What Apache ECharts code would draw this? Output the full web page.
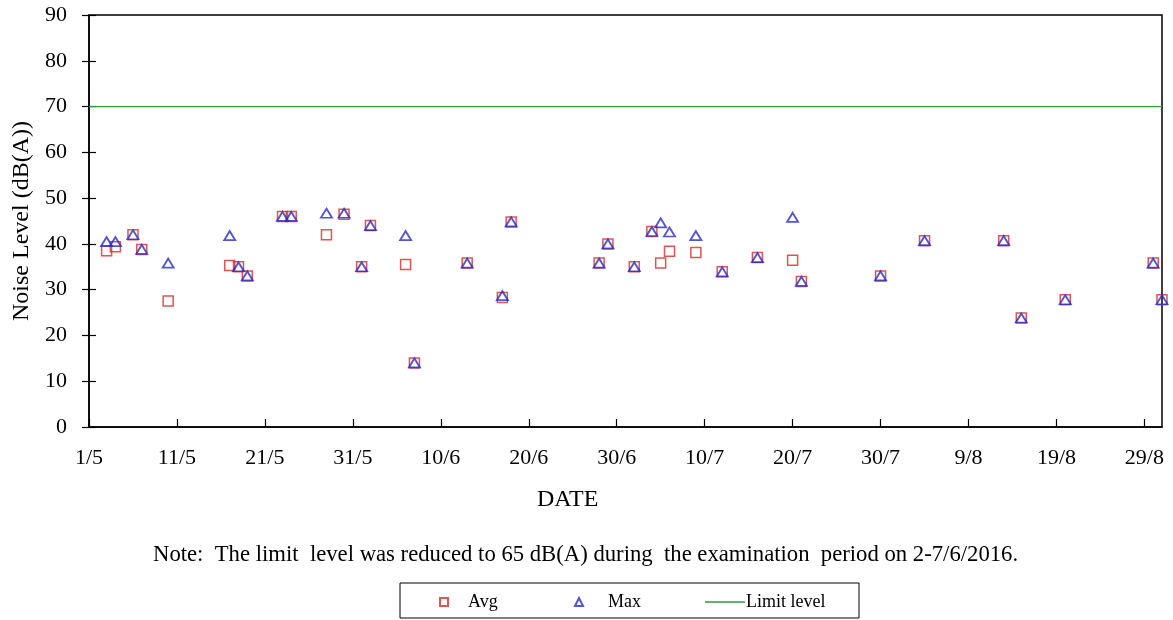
<!DOCTYPE html>
<html>
<head>
<meta charset="utf-8">
<script src="https://cdn.jsdelivr.net/npm/echarts@6/dist/echarts.min.js"></script>
<style>
html,body{margin:0;padding:0;background:#fff;}
#chart{width:1173px;height:620px;}
</style>
</head>
<body>
<div id="chart"></div>
<script>
// ---- data ----
const startDate = '2016-05-01';
const endDate = '2016-08-31';
const dates = ['2016-05-03','2016-05-04','2016-05-06','2016-05-07','2016-05-10','2016-05-17','2016-05-18','2016-05-19',
  '2016-05-23','2016-05-24','2016-05-28','2016-05-30','2016-06-01','2016-06-02','2016-06-06','2016-06-07',
  '2016-06-13','2016-06-17','2016-06-18','2016-06-28','2016-06-29','2016-07-02','2016-07-04','2016-07-05',
  '2016-07-06','2016-07-09','2016-07-12','2016-07-16','2016-07-20','2016-07-21','2016-07-30','2016-08-04',
  '2016-08-13','2016-08-15','2016-08-20','2016-08-30','2016-08-31'];
const avgValues = [38.5,39.4,42,38.8,27.5,35.3,35,33,
  46,46,42,46.5,35,44,35.5,14,
  35.8,28.3,44.8,35.8,40,35,42.7,35.8,
  38.4,38.1,33.9,37,36.4,31.8,33,40.7,
  40.7,23.8,27.8,35.8,27.8];
const maxValues = [40.5,40.5,42,38.8,35.8,41.8,35,33,
  46,46,46.7,46.7,35,44,41.8,14,
  35.8,28.7,44.8,35.8,40,35,42.7,44.6,
  42.6,41.8,33.9,37,45.8,31.8,33,40.7,
  40.7,23.8,27.8,35.8,27.8];
const limitLevel = 70;
const xTickLabels = ['1/5','11/5','21/5','31/5','10/6','20/6','30/6','10/7','20/7','30/7','9/8','19/8','29/8'];
const yTicks = {min: 0, max: 90, interval: 10};

// ---- helpers ----
const DAY = 86400000;
const dayOffset = d => Math.round((Date.parse(d) - Date.parse(startDate)) / DAY);
const xMax = dayOffset(endDate);
const avgData = dates.map((d, i) => [dayOffset(d), avgValues[i]]);
const maxData = dates.map((d, i) => [dayOffset(d), maxValues[i]]);
const limitData = [[0, limitLevel], [xMax, limitLevel]];

const FONT = '"Liberation Serif", "Times New Roman", serif';
const RED = '#d42a2a';
const BLUE = '#2a2ac8';
const GREEN = '#2e9a3a';
const legendText = {color: '#000', fontFamily: FONT, fontSize: 18};

const chart = echarts.init(document.getElementById('chart'), null, {renderer: 'canvas'});
chart.setOption({
  animation: false,
  backgroundColor: '#fff',
  grid: {left: 89, right: 11, top: 15, bottom: 193, show: true, borderColor: '#000', borderWidth: 1.5, backgroundColor: 'transparent'},
  xAxis: {
    type: 'value', min: 0, max: xMax, interval: 10,
    axisLine: {show: true, lineStyle: {color: '#000', width: 1.5}},
    axisTick: {show: true, inside: true, length: 8, lineStyle: {color: '#000', width: 1.2}},
    splitLine: {show: false},
    axisLabel: {
      color: '#000', fontFamily: FONT, fontSize: 22, margin: 20,
      formatter: v => (v % 10 === 0 && xTickLabels[v / 10] !== undefined) ? xTickLabels[v / 10] : '',
      showMaxLabel: false
    }
  },
  yAxis: [{
    type: 'value', min: yTicks.min, max: yTicks.max, interval: yTicks.interval,
    name: 'Noise Level (dB(A))', nameLocation: 'middle', nameGap: 55,
    nameTextStyle: {color: '#000', fontFamily: FONT, fontSize: 24},
    axisLine: {show: true, lineStyle: {color: '#000', width: 1.5}},
    axisTick: {show: true, inside: false, length: 7, lineStyle: {color: '#000', width: 1.2}},
    splitLine: {show: false},
    axisLabel: {color: '#000', fontFamily: FONT, fontSize: 22, margin: 22}
  }, {
    type: 'value', min: yTicks.min, max: yTicks.max, interval: yTicks.interval, position: 'left',
    axisLine: {show: false},
    axisTick: {show: true, inside: true, length: 7, lineStyle: {color: '#000', width: 1.2}},
    axisLabel: {show: false}, splitLine: {show: false}
  }],
  legend: [
    {data: ['Avg'], left: 439, top: 593, padding: 0, itemWidth: 8, itemHeight: 8,
     textStyle: Object.assign({padding: [0, 0, 0, 15]}, legendText), selectedMode: false},
    {data: ['Max'], left: 574, top: 593, padding: 0, itemWidth: 8, itemHeight: 8,
     textStyle: Object.assign({padding: [0, 0, 0, 20]}, legendText), selectedMode: false},
    {data: [{name: 'Limit level', icon: 'rect'}], left: 705, top: 593, padding: 0, itemWidth: 40, itemHeight: 1.5,
     textStyle: Object.assign({padding: [0, 0, 0, -4]}, legendText), selectedMode: false}
  ],
  graphic: [
    {type: 'text', left: 537, top: 488, style: {text: 'DATE', fill: '#000', font: '24px ' + FONT}},
    {type: 'text', left: 153, top: 544, style: {text: 'Note:  The limit  level was reduced to 65 dB(A) during  the examination  period on 2-7/6/2016.', fill: '#000', font: '22.7px ' + FONT}},
    {type: 'rect', shape: {x: 400, y: 583, width: 459, height: 35}, style: {fill: 'none', stroke: '#000', lineWidth: 1}}
  ],
  series: [
    {name: 'Avg', type: 'scatter', data: avgData, symbol: 'rect', symbolSize: 10,
     itemStyle: {color: 'rgba(255,255,255,0)', borderColor: RED, borderWidth: 1.5}, z: 3},
    {name: 'Max', type: 'scatter', data: maxData, symbol: 'triangle', symbolSize: [11, 9],
     itemStyle: {color: 'rgba(255,255,255,0)', borderColor: BLUE, borderWidth: 1.8}, z: 4},
    {name: 'Limit level', type: 'line', data: limitData, symbol: 'none', showSymbol: false,
     lineStyle: {color: GREEN, width: 1.3}, itemStyle: {color: GREEN}, z: 2}
  ]
});
</script>
</body>
</html>
